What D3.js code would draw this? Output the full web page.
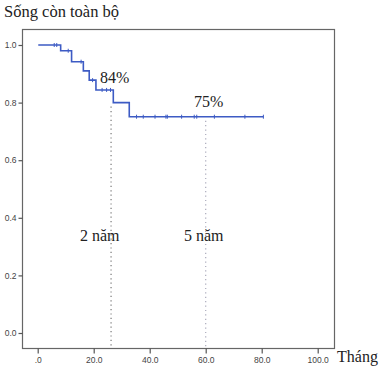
<!DOCTYPE html>
<html>
<head>
<meta charset="utf-8">
<script src="https://cdn.jsdelivr.net/npm/d3@7"></script>
<style>
body { margin: 0; background: #fff; }
svg { display: block; }
</style>
</head>
<body>
<script>
// Kaplan-Meier data (months, survival)
var startTime = 0.2;
var endTime = 80.6;
var eventTimes = [8.2, 12.1, 16.3, 18.4, 20.8, 27.0, 32.7];
var survival = [0.98, 0.942, 0.91, 0.878, 0.844, 0.80, 0.751];
var censorTimes = [5.9, 6.8, 10.9, 15.5, 19.6, 23.0, 24.6, 26.0, 35.3, 37.7, 41.9,
    45.8, 46.3, 51.4, 55.9, 56.8, 63.1, 74.0, 80.6];
var xTicks = [0, 20, 40, 60, 80, 100];
var yTicks = [0, 0.2, 0.4, 0.6, 0.8, 1.0];
var marks = [
    { t: 26.2, label: "2 năm", pct: "84%", top: 0.8, color: "#777" },
    { t: 60, label: "5 năm", pct: "75%", top: 0.751, color: "#aab" }
];

var W = 381, H = 368;
var svg = d3.select("body").append("svg").attr("width", W).attr("height", H);

var x = d3.scaleLinear().domain([0, 100]).range([37.7, 317.7]);
var y = d3.scaleLinear().domain([0, 1]).range([333, 45]);

var frameL = 22, frameR = 334, frameT = 29, frameB = 348;

// frame
svg.append("rect")
    .attr("x", frameL + 0.5).attr("y", frameT + 0.5)
    .attr("width", frameR - frameL).attr("height", frameB - frameT)
    .attr("fill", "none").attr("stroke", "#666").attr("stroke-width", 1.2);

// axes
var xAxis = d3.axisBottom(x).tickValues(xTicks).tickSize(5).tickPadding(3)
    .tickFormat(function (d) { return d === 0 ? ".0" : d.toFixed(1); });
var gx = svg.append("g").attr("transform", "translate(0," + (frameB + 0.5) + ")").call(xAxis);
gx.select(".domain").remove();

var yAxis = d3.axisLeft(y).tickValues(yTicks).tickSize(4).tickPadding(2)
    .tickFormat(function (d) { return d.toFixed(1); });
var gy = svg.append("g").attr("transform", "translate(" + (frameL + 0.5) + ",0)").call(yAxis);
gy.select(".domain").remove();

svg.selectAll(".tick line").attr("stroke", "#555").attr("stroke-width", 1.2);
svg.selectAll(".tick text")
    .attr("fill", "#444")
    .style("font-family", "Liberation Sans, Arial, sans-serif")
    .style("font-size", "8.5px");

// dotted reference lines
marks.forEach(function (m) {
    svg.append("line")
        .attr("x1", x(m.t)).attr("x2", x(m.t))
        .attr("y1", y(m.top) + 4).attr("y2", frameB)
        .attr("stroke", m.color).attr("stroke-width", 1.2)
        .attr("stroke-dasharray", "1.2,3.2");
});

// step curve
var pts = [[startTime, 1]];
var s = 1;
eventTimes.forEach(function (t, i) {
    pts.push([t, s]);
    s = survival[i];
    pts.push([t, s]);
});
pts.push([endTime, s]);

var line = d3.line().x(function (d) { return x(d[0]); }).y(function (d) { return y(d[1]); });
var blue = "#3d5bc4";
svg.append("path").datum(pts)
    .attr("d", line)
    .attr("fill", "none").attr("stroke", blue).attr("stroke-width", 1.6);

function survAt(t) {
    var v = 1;
    eventTimes.forEach(function (e, i) { if (e <= t) v = survival[i]; });
    return v;
}

svg.selectAll(".cens").data(censorTimes).enter().append("line")
    .attr("class", "cens")
    .attr("x1", function (d) { return x(d); }).attr("x2", function (d) { return x(d); })
    .attr("y1", function (d) { return y(survAt(d)) - 2; })
    .attr("y2", function (d) { return y(survAt(d)) + 2; })
    .attr("stroke", blue).attr("stroke-width", 1);

// text
var serif = "'Liberation Serif', 'Times New Roman', serif";
function label(tx, ty, str, size) {
    svg.append("text").attr("x", tx).attr("y", ty)
        .style("font-family", serif).style("font-size", size + "px").attr("fill", "#222")
        .text(str);
}
label(4, 17, "Sống còn toàn bộ", 16.5);
label(337, 362, "Tháng", 16);
label(100, 83, marks[0].pct, 16);
label(194, 107, marks[1].pct, 16);
label(80, 241, marks[0].label, 16);
label(184, 241, marks[1].label, 16);
</script>
</body>
</html>
